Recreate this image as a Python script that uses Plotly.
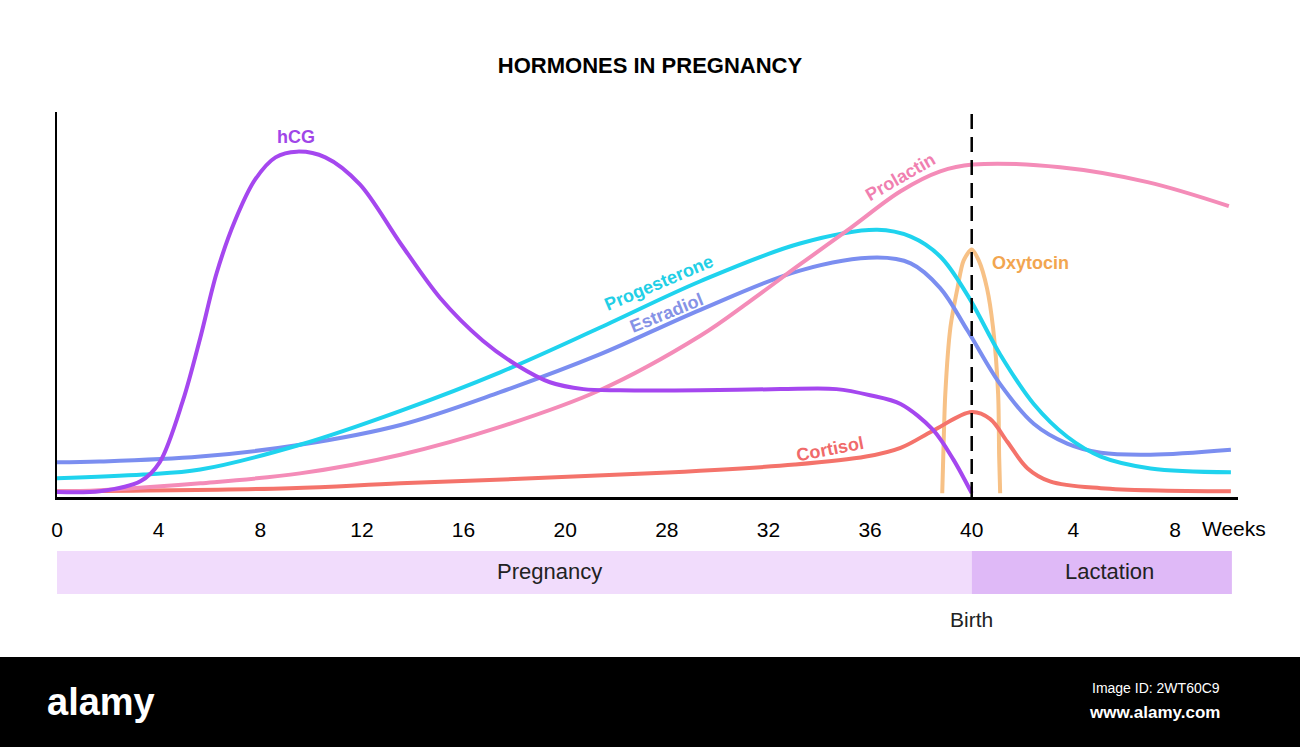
import plotly.graph_objects as go

# ---- Data (x = position index along the week axis, y = relative level 0-100) ----
tick_pos = [0, 1, 2, 3, 4, 5, 6, 7, 8, 9, 10, 11]
tick_labels = ["0", "4", "8", "12", "16", "20", "28", "32", "36", "40", "4", "8"]

hcg_x = [0, 0.42, 0.82, 1.01, 1.24, 1.41, 1.57, 1.75, 1.95, 2.15, 2.36, 2.64, 2.98,
         3.38, 3.77, 4.19, 4.53, 4.85, 5.18, 5.54, 6.33, 7.12, 7.67, 8.00, 8.30, 8.62,
         8.82, 9.00]
hcg_y = [0.3, 0.5, 3.1, 8.1, 24.4, 40.8, 57.7, 71.4, 82.3, 88.1, 89.6, 88.1, 81.0,
         65.5, 51.2, 40.0, 33.5, 29.1, 27.3, 27.0, 27.0, 27.3, 27.3, 25.7, 23.4, 16.6,
         8.8, 0]

prog_x = [0, 0.85, 1.41, 2.39, 3.38, 4.36, 5.34, 6.33, 7.31, 8.07, 8.40, 8.69, 8.96,
          9.28, 9.61, 9.94, 10.27, 10.76, 11.55]
prog_y = [3.9, 4.9, 6.2, 12.7, 21.6, 31.7, 43.4, 55.6, 65.5, 69.1, 67.3, 62.1, 51.9,
          36.4, 23.4, 14.8, 9.6, 6.5, 5.5]

estr_x = [0, 0.42, 1.41, 2.39, 3.38, 4.36, 5.34, 6.33, 7.31, 8.07, 8.40, 8.69, 8.96,
          9.28, 9.61, 9.94, 10.27, 10.76, 11.55]
estr_y = [8.1, 8.3, 9.6, 12.7, 17.9, 26.5, 36.4, 48.1, 58.4, 61.8, 60.3, 53.8, 42.6,
          28.6, 18.2, 13.0, 10.6, 10.1, 11.4]

prol_x = [0, 0.42, 1.41, 2.39, 3.38, 4.36, 5.34, 6.33, 6.82, 7.31, 7.81, 8.30, 8.69,
          9.01, 9.87, 10.73, 11.53]
prol_y = [0.5, 0.8, 2.6, 5.2, 10.1, 17.4, 27.0, 41.3, 50.4, 60.0, 69.6, 79.2, 84.4,
          86.2, 85.5, 81.6, 75.3]

cort_x = [0, 2.29, 3.38, 5.84, 7.26, 7.96, 8.30, 8.62, 9.00, 9.18, 9.35, 9.55, 9.77,
          10.27, 11.55]
cort_y = [0.5, 1.3, 2.6, 5.2, 7.5, 9.6, 11.9, 16.4, 21.3, 19.5, 13.5, 6.5, 3.1, 1.3, 0.5]

oxy_x = [8.71, 8.72, 8.74, 8.79, 8.86, 8.92, 9.00, 9.07, 9.15, 9.21, 9.26, 9.27, 9.28]
oxy_y = [0, 9.6, 26.0, 43.4, 53.8, 61.0, 63.9, 61.0, 53.8, 43.4, 26.0, 9.6, 0]

birth_pos = 9
end_pos = 11.56
phases = ["Pregnancy", "Lactation"]

# ---- Styles ----
C_HCG = "#a547ef"
C_PROG = "#1fd3ee"
C_ESTR = "#7b8ef0"
C_PROL = "#f48cb8"
C_CORT = "#f4736b"
C_OXY = "#f7c186"

fig = go.Figure()

def add_line(x, y, color, name, width=4, smoothing=1.0):
    fig.add_trace(go.Scatter(x=x, y=y, mode="lines", name=name,
                             line=dict(color=color, width=width, shape="spline",
                                       smoothing=smoothing),
                             hoverinfo="name"))

add_line(oxy_x, oxy_y, C_OXY, "Oxytocin", smoothing=0.8)
add_line(cort_x, cort_y, C_CORT, "Cortisol")
add_line(estr_x, estr_y, C_ESTR, "Estradiol")
add_line(prog_x, prog_y, C_PROG, "Progesterone")
add_line(prol_x, prol_y, C_PROL, "Prolactin")
add_line(hcg_x, hcg_y, C_HCG, "hCG", smoothing=0.9)

LBL = "Liberation Sans, Arial, sans-serif"

shapes = []
# birth dashed line
shapes.append(dict(type="line", xref="x", yref="paper", x0=birth_pos, x1=birth_pos,
                   y0=0, y1=1, line=dict(color="black", width=2.5, dash="15px,8px"),
                   layer="above"))
# phase bands
shapes.append(dict(type="rect", xref="x", yref="paper", x0=0, x1=birth_pos,
                   y0=-0.2519, y1=-0.1403, fillcolor="#f1dcfc", line=dict(width=0),
                   layer="below"))
shapes.append(dict(type="rect", xref="x", yref="paper", x0=birth_pos, x1=end_pos,
                   y0=-0.2519, y1=-0.1403, fillcolor="#dfb9f7", line=dict(width=0),
                   layer="below"))
# footer bar
shapes.append(dict(type="rect", xref="paper", yref="paper", x0=-0.06, x1=1.07,
                   y0=-0.70, y1=-0.4156, fillcolor="black", line=dict(width=0),
                   layer="below"))

ann = []
def lab(text, x, y, color, angle=0, size=18, xref="x", yref="y", bold=True, family=LBL,
        xanchor="center"):
    ann.append(dict(text=("<b>%s</b>" % text) if bold else text, x=x, y=y, xref=xref,
                    yref=yref, showarrow=False, textangle=angle, xanchor=xanchor,
                    yanchor="middle",
                    font=dict(color=color, size=size, family=family)))

# curve labels
lab("hCG", 2.35, 93.5, "#a046e8")
lab("Prolactin", 8.30, 82.9, "#f07fb0", angle=-30)
lab("Progesterone", 5.92, 55.1, "#22cfe6", angle=-23)
lab("Estradiol", 6.00, 47.3, "#8592e6", angle=-22)
lab("Oxytocin", 9.58, 60.3, "#f2a650")
lab("Cortisol", 7.61, 11.7, "#f06a6a", angle=-11)

# axis unit
lab("Weeks", 11.58, -0.083, "black", size=21, yref="paper", bold=False)
# phase labels
lab(phases[0], 4.85, -0.1948, "#222222", size=22, yref="paper", bold=False)
lab(phases[1], 10.36, -0.1948, "#222222", size=22, yref="paper", bold=False)
lab("Birth", birth_pos, -0.3169, "#222222", size=21, yref="paper", bold=False)

# footer texts
lab("alamy", 0.0373, -0.5325, "white", size=38, xref="paper", yref="paper")
lab("Image ID: 2WT60C9", 0.9865, -0.496, "white", size=14, xref="paper",
    yref="paper", bold=False, xanchor="right")
lab("www.alamy.com", 0.9865, -0.561, "white", size=17, xref="paper",
    yref="paper", xanchor="right")

fig.update_layout(
    width=1300, height=747,
    margin=dict(l=57, r=62, t=112, b=250, pad=0),
    paper_bgcolor="white", plot_bgcolor="white",
    showlegend=False,
    title=dict(text="<b>HORMONES IN PREGNANCY</b>", x=0.5, xanchor="center",
               y=1 - 65 / 747, yanchor="middle", yref="container",
               font=dict(size=22, color="black", family=LBL)),
    shapes=shapes, annotations=ann,
    xaxis=dict(range=[0, 11.62], tickvals=tick_pos, ticktext=tick_labels,
               showgrid=False, zeroline=False, showline=True, linecolor="black",
               linewidth=2.5, ticks="", ticklabelstandoff=12,
               tickfont=dict(size=21, color="black", family=LBL), fixedrange=True),
    yaxis=dict(range=[-1, 100], showgrid=False, zeroline=False, showline=True,
               linecolor="black", linewidth=2, showticklabels=False, ticks="",
               fixedrange=True),
)

fig.write_html("out.html", post_script="document.body.style.margin='0';",
               config={"displayModeBar": False})
